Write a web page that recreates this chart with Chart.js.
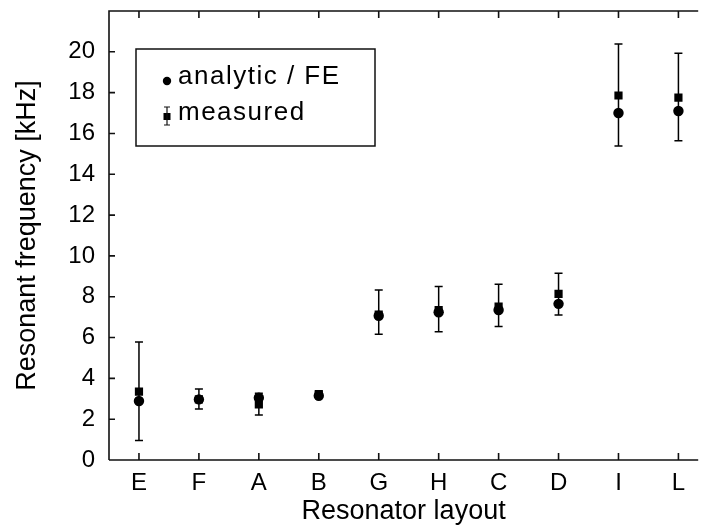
<!DOCTYPE html>
<html>
<head>
<meta charset="utf-8">
<script src="https://cdn.jsdelivr.net/npm/chart.js@4.4.1/dist/chart.umd.min.js"></script>
<style>
  html, body { margin: 0; padding: 0; background: #fff; }
  #wrap { width: 704px; height: 528px; }
</style>
</head>
<body>
<div id="wrap"><canvas id="chart"></canvas></div>
<script>
// resonator layouts along the x axis
var layouts = ["E", "F", "A", "B", "G", "H", "C", "D", "I", "L"];
// analytic / FE resonant frequency [kHz]
var analytic = [2.89, 2.97, 3.05, 3.15, 7.07, 7.24, 7.35, 7.65, 17.0, 17.1];
// measured resonant frequency [kHz] with error range
var measured = [3.35, 2.97, 2.73, 3.23, 7.12, 7.35, 7.52, 8.14, 17.86, 17.76];
var measuredLow = [0.95, 2.5, 2.2, 3.1, 6.16, 6.29, 6.54, 7.1, 15.39, 15.64];
var measuredHigh = [5.78, 3.48, 3.27, 3.33, 8.33, 8.5, 8.61, 9.15, 20.38, 19.93];
var yTicks = [0, 2, 4, 6, 8, 10, 12, 14, 16, 18, 20];

var fontFamily = "'Liberation Sans', Arial, Helvetica, sans-serif";

function toPoints(values) {
  return values.map(function(v, i) { return { x: i, y: v }; });
}

// error bars for the measured series
var errorBars = {
  id: "errorBars",
  afterDatasetsDraw: function(chart) {
    var ctx = chart.ctx;
    var xs = chart.scales.x, ys = chart.scales.y;
    ctx.save();
    ctx.strokeStyle = "#000";
    ctx.lineWidth = 1.5;
    for (var i = 0; i < measured.length; i++) {
      var x = xs.getPixelForValue(i);
      var y1 = ys.getPixelForValue(measuredLow[i]);
      var y2 = ys.getPixelForValue(measuredHigh[i]);
      ctx.beginPath();
      ctx.moveTo(x, y1); ctx.lineTo(x, y2);
      ctx.moveTo(x - 4, y1); ctx.lineTo(x + 4, y1);
      ctx.moveTo(x - 4, y2); ctx.lineTo(x + 4, y2);
      ctx.stroke();
    }
    ctx.restore();
  }
};

// frame, inward tick marks and legend box
var frame = {
  id: "frame",
  afterDraw: function(chart) {
    var ctx = chart.ctx;
    var a = chart.chartArea;
    var xs = chart.scales.x, ys = chart.scales.y;
    ctx.save();
    ctx.strokeStyle = "#111";
    ctx.lineWidth = 1.6;
    ctx.beginPath();
    ctx.moveTo(a.left, a.bottom); ctx.lineTo(a.left, a.top); ctx.lineTo(a.right, a.top);
    ctx.moveTo(a.left, a.bottom); ctx.lineTo(a.right, a.bottom);
    for (var i = 0; i < layouts.length; i++) {
      var x = xs.getPixelForValue(i);
      ctx.moveTo(x, a.bottom); ctx.lineTo(x, a.bottom - 7);
      ctx.moveTo(x, a.top); ctx.lineTo(x, a.top + 7);
    }
    yTicks.forEach(function(t) {
      var y = ys.getPixelForValue(t);
      ctx.moveTo(a.left, y); ctx.lineTo(a.left + 6, y);
    });
    ctx.stroke();

    // legend box
    var lx = a.left + 27, ly = a.top + 38, lw = 239, lh = 97;
    ctx.lineWidth = 1.5;
    ctx.strokeRect(lx, ly, lw, lh);
    ctx.fillStyle = "#000";
    ctx.beginPath();
    ctx.arc(lx + 31, ly + 32, 4.2, 0, Math.PI * 2);
    ctx.fill();
    var sx = lx + 31, sy = ly + 67;
    ctx.fillRect(sx - 3.5, sy - 3, 7, 7);
    ctx.lineWidth = 1.2;
    ctx.beginPath();
    ctx.moveTo(sx, sy - 9); ctx.lineTo(sx, sy + 9);
    ctx.moveTo(sx - 3, sy - 9); ctx.lineTo(sx + 3, sy - 9);
    ctx.moveTo(sx - 3, sy + 9); ctx.lineTo(sx + 3, sy + 9);
    ctx.stroke();
    ctx.font = "26px " + fontFamily;
    ctx.letterSpacing = "1.5px";
    ctx.textBaseline = "middle";
    ctx.textAlign = "left";
    ctx.fillText(chart.data.datasets[0].label, lx + 42, ly + 28);
    ctx.fillText(chart.data.datasets[1].label, lx + 42, ly + 64);
    ctx.restore();
  }
};

new Chart(document.getElementById("chart"), {
  type: "scatter",
  data: {
    datasets: [
      {
        label: "analytic / FE",
        data: toPoints(analytic),
        pointStyle: "circle",
        pointRadius: 5.2,
        pointHoverRadius: 5.2,
        backgroundColor: "#000",
        borderColor: "#000",
        borderWidth: 0
      },
      {
        label: "measured",
        data: toPoints(measured),
        pointStyle: "rect",
        pointRadius: 5.8,
        pointHoverRadius: 5.8,
        backgroundColor: "#000",
        borderColor: "#000",
        borderWidth: 0
      }
    ]
  },
  plugins: [errorBars, frame],
  options: {
    responsive: true,
    maintainAspectRatio: false,
    animation: false,
    layout: { padding: { top: 11, right: 0, left: 0, bottom: 0 } },
    plugins: {
      legend: { display: false },
      tooltip: { enabled: false }
    },
    scales: {
      x: {
        type: "linear",
        min: -0.5,
        max: 9.33,
        afterBuildTicks: function(scale) {
          scale.ticks = layouts.map(function(l, i) { return { value: i }; });
        },
        afterFit: function(scale) {
          scale.height = 68;
          scale.paddingLeft = 0;
          scale.paddingRight = 0;
        },
        grid: { display: false, drawTicks: false },
        border: { display: false },
        ticks: {
          color: "#000",
          padding: 9,
          maxRotation: 0,
          autoSkip: false,
          font: { family: fontFamily, size: 24 },
          callback: function(v) { return layouts[v]; }
        },
        title: {
          display: true,
          text: "Resonator layout",
          color: "#000",
          padding: { top: 0, bottom: 0 },
          font: { family: fontFamily, size: 27 }
        }
      },
      y: {
        min: 0,
        max: 22,
        afterBuildTicks: function(scale) {
          scale.ticks = yTicks.map(function(t) { return { value: t }; });
        },
        afterFit: function(scale) {
          scale.width = 109;
          scale.paddingTop = 0;
          scale.paddingBottom = 0;
        },
        grid: { display: false, drawTicks: false },
        border: { display: false },
        ticks: {
          color: "#000",
          padding: 14,
          font: { family: fontFamily, size: 24 }
        },
        title: {
          display: true,
          text: "Resonant frequency [kHz]",
          color: "#000",
          padding: { top: 11, bottom: 0 },
          font: { family: fontFamily, size: 27 }
        }
      }
    }
  }
});
</script>
</body>
</html>
